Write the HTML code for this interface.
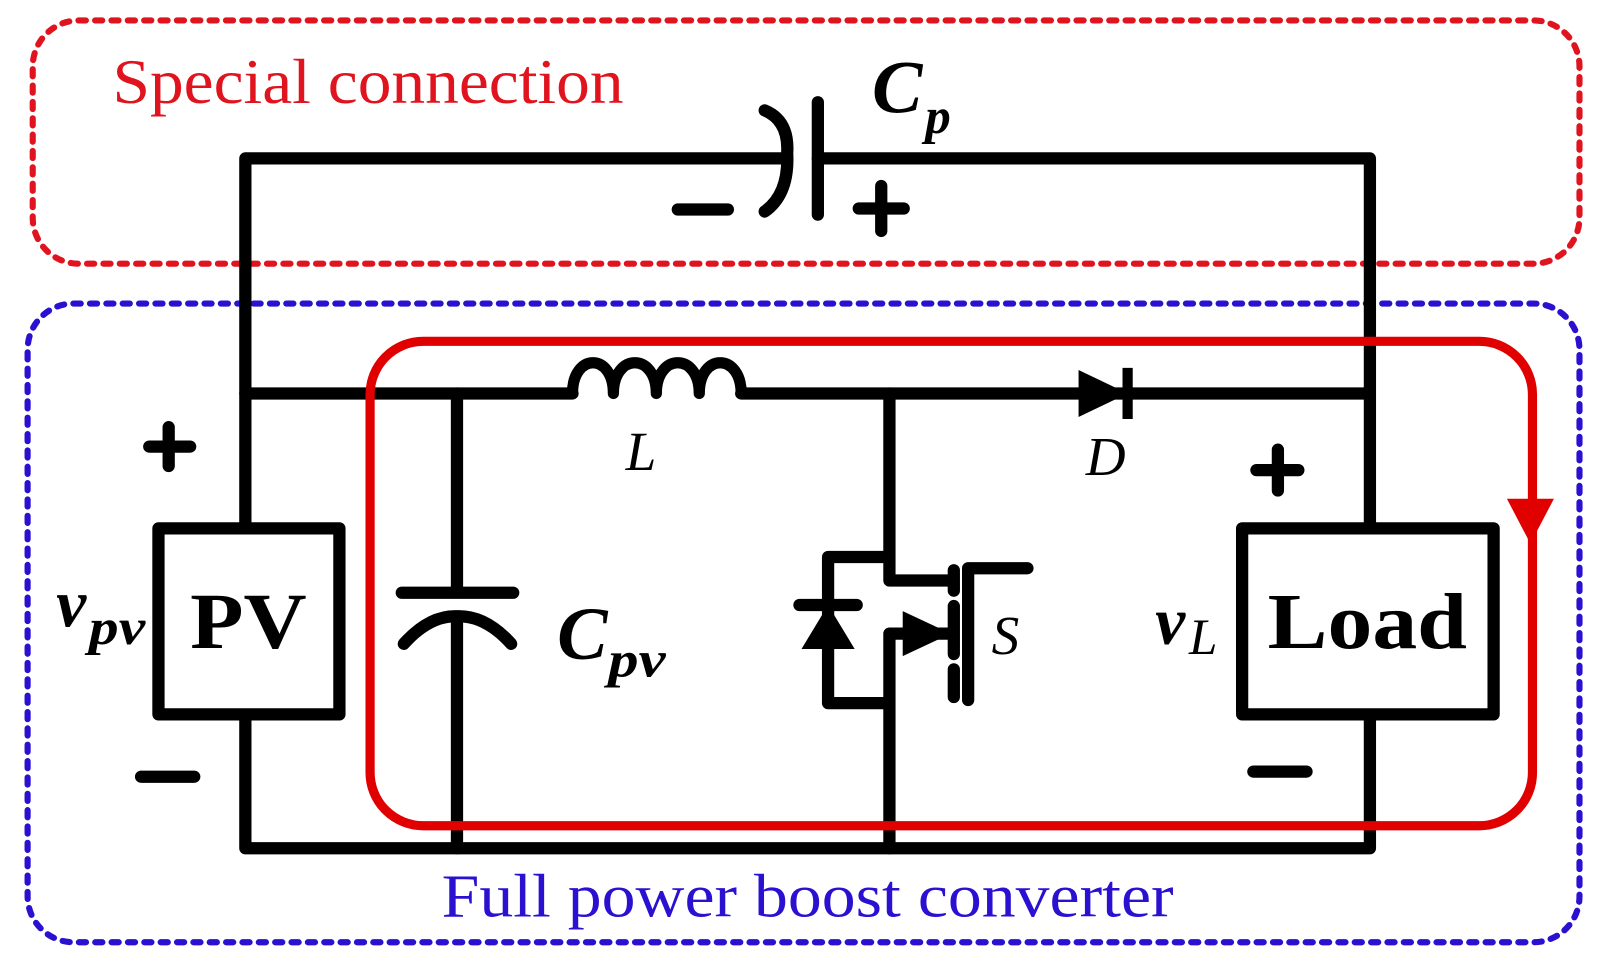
<!DOCTYPE html>
<html><head><style>
html,body{margin:0;padding:0;background:#fff;}
svg{display:block;}
text{font-family:"Liberation Serif",serif;}
</style></head><body>
<svg width="1603" height="977" viewBox="0 0 1568 956" preserveAspectRatio="none" xmlns="http://www.w3.org/2000/svg">
<!-- dashed boxes -->
<rect x="32" y="20" width="1513" height="238" rx="45" fill="none" stroke="#e0141e" stroke-width="6" stroke-dasharray="7 9" stroke-linecap="round"/>
<rect x="27" y="297" width="1518" height="625" rx="45" fill="none" stroke="#2a10d0" stroke-width="6" stroke-dasharray="7 9" stroke-linecap="round"/>
<text x="110" y="101" font-size="62" fill="#e0141e" textLength="500" lengthAdjust="spacingAndGlyphs">Special connection</text>
<text x="432" y="897" font-size="60" fill="#2a10d0" textLength="716" lengthAdjust="spacingAndGlyphs">Full power boost converter</text>

<g stroke="#000" stroke-width="12" fill="none" stroke-linecap="round" stroke-linejoin="round">
<path d="M768 155 H240 V515 M800 155 H1340 V515"/>
<path d="M800 100 V210"/>
<path d="M748 108 Q772 118 770 150 Q772 190 748 207"/>
<path d="M240 385 H560 M725 385 H1340"/>
<path d="M560 385 C560 345 600 345 600 385 C600 345 642 345 642 385 C642 345 684 345 684 385 C684 345 725 345 725 385" stroke-width="11"/>
<rect x="155" y="517" width="177" height="182"/>
<path d="M240 700 V830 H1340 V700"/>
<rect x="1215" y="517" width="246" height="182"/>
<path d="M447 385 V580 M393 580 H502 M447 605 V830"/>
<path d="M395 630 Q420 602 447 603 Q475 602 500 630"/>
<path d="M870 385 V568 H932 M870 830 V620 H930"/>
<path d="M870 545 H810 V688 H870"/>
<path d="M782 592 H838"/>
<path d="M947 556 V685 M947 556 H1005"/>
<path d="M933 558 V578 M933 593 V640 M933 655 V682"/>
<path d="M663 205 H712 M862 182 V226 M840 204 H884"/>
<path d="M165 418 V456 M146 437 H186 M138 760 H190"/>
<path d="M1250 440 V480 M1229 460 H1270 M1226 755 H1278"/>
</g>
<polygon points="810,592 784,635 836,635" fill="#000"/>
<polygon points="883,598 883,642 930,620" fill="#000"/>
<polygon points="1055,362 1055,408 1103,385" fill="#000"/>
<path d="M1103 360 V410" stroke="#000" stroke-width="10"/>

<rect x="362" y="334" width="1137" height="474" rx="52" fill="none" stroke="#e00000" stroke-width="9"/>
<polygon points="1474,488 1520,488 1497,532" fill="#e00000"/>

<text x="853" y="110" font-size="74" font-weight="bold" font-style="italic">C</text>
<text x="905" y="130" font-size="50" font-weight="bold" font-style="italic">p</text>
<text x="55" y="613" font-size="66" font-weight="bold" font-style="italic">v</text>
<text x="87" y="630" font-size="50" font-weight="bold" font-style="italic" textLength="55" lengthAdjust="spacingAndGlyphs">pv</text>
<text x="186" y="634" font-size="78" font-weight="bold" textLength="114" lengthAdjust="spacingAndGlyphs">PV</text>
<text x="545" y="645" font-size="74" font-weight="bold" font-style="italic">C</text>
<text x="595" y="662" font-size="50" font-weight="bold" font-style="italic" textLength="56" lengthAdjust="spacingAndGlyphs">pv</text>
<text x="612" y="460" font-size="54" font-style="italic">L</text>
<text x="1062" y="465" font-size="54" font-style="italic">D</text>
<text x="970" y="640" font-size="54" font-style="italic">S</text>
<text x="1130" y="630" font-size="66" font-weight="bold" font-style="italic">v</text>
<text x="1163" y="640" font-size="50" font-style="italic">L</text>
<text x="1240" y="634" font-size="78" font-weight="bold" textLength="195" lengthAdjust="spacingAndGlyphs">Load</text>
</svg>
</body></html>
